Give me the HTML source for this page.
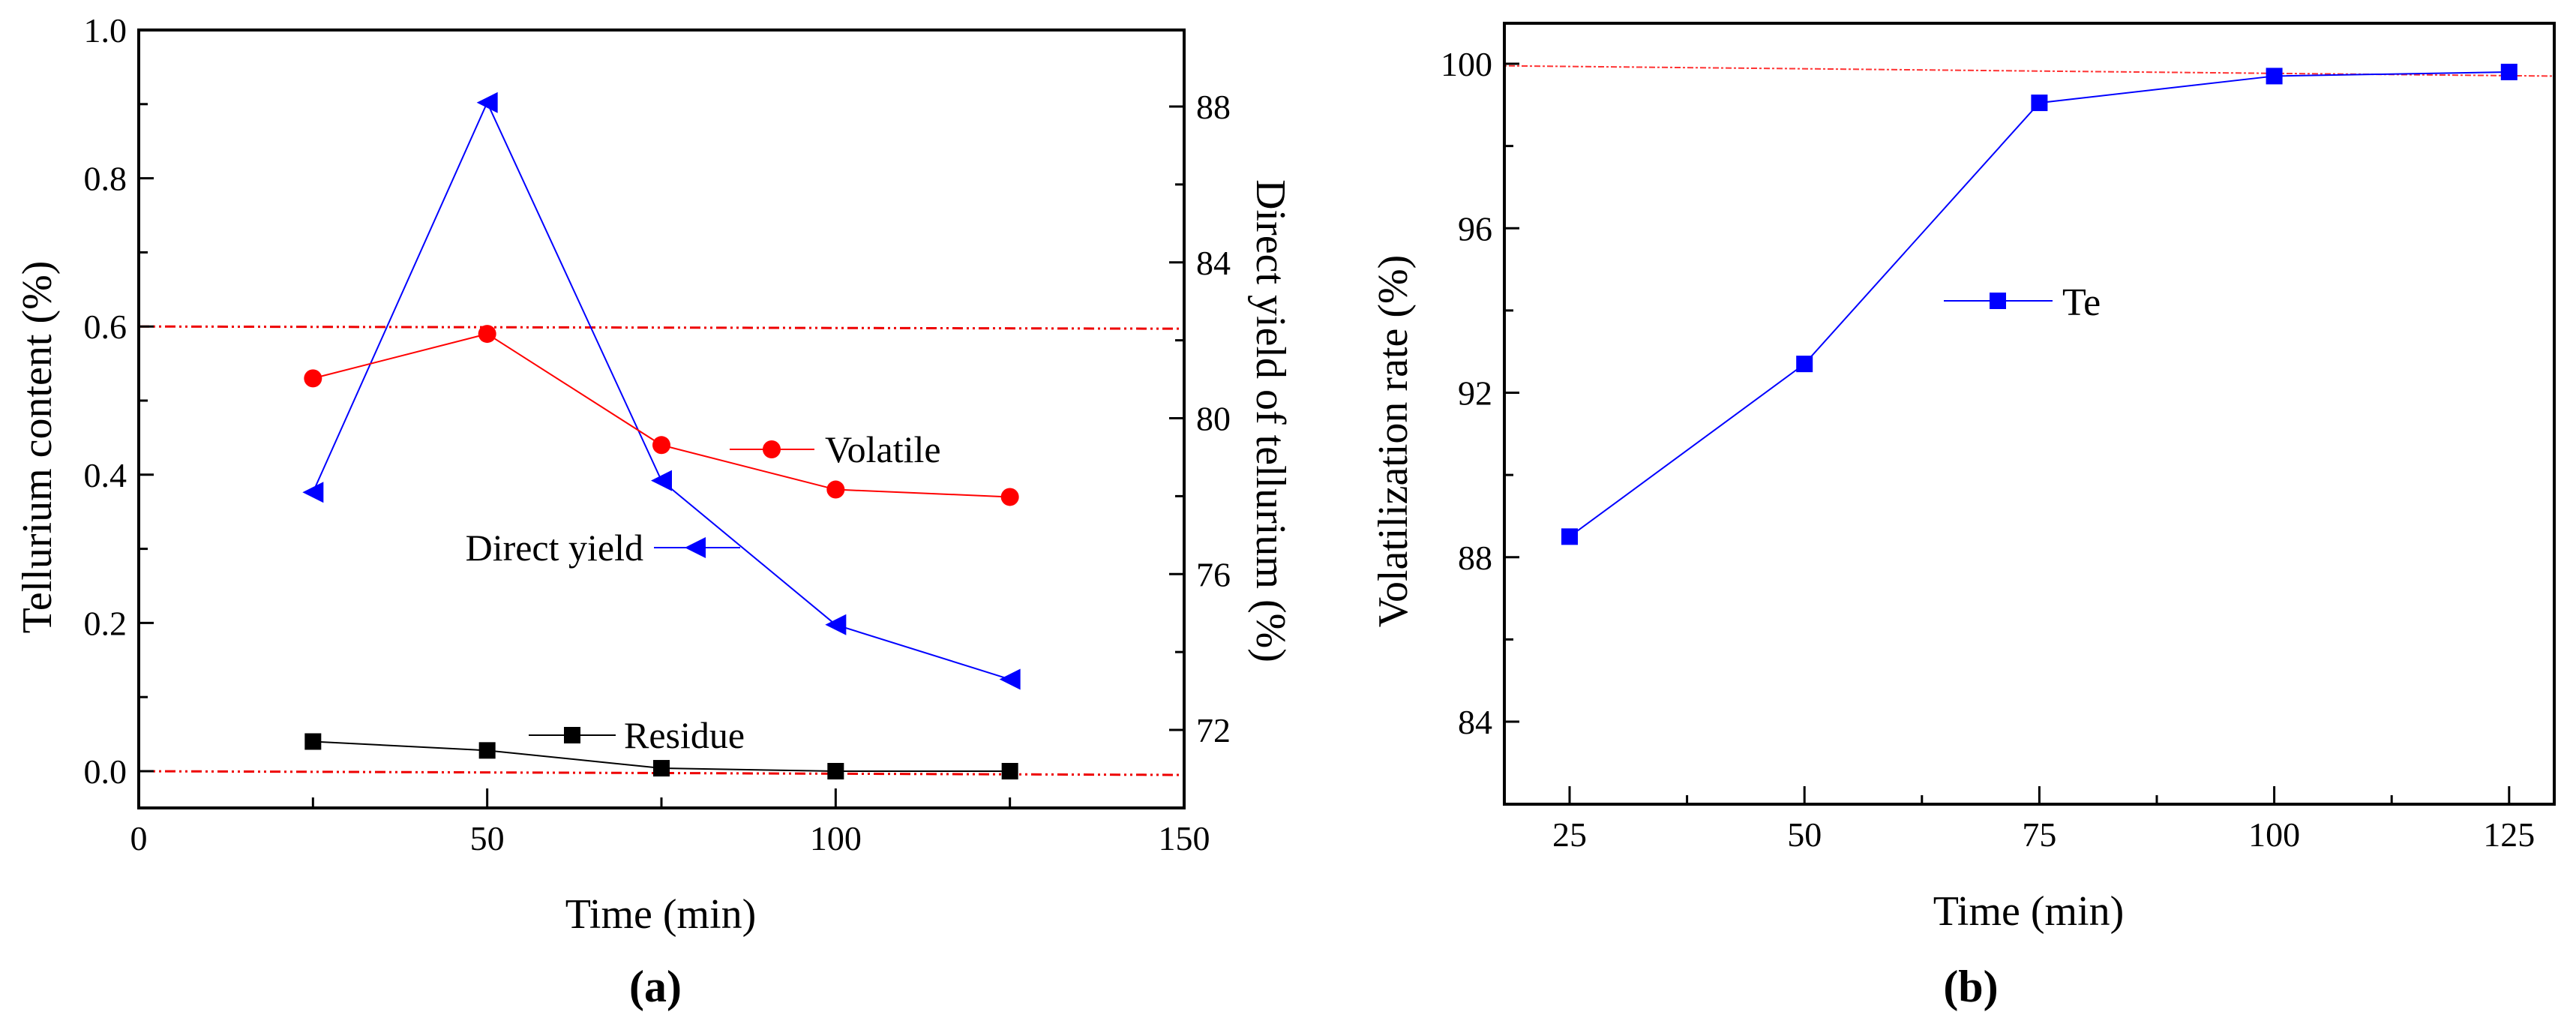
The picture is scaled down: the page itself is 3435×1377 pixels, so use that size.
<!DOCTYPE html>
<html><head><meta charset="utf-8"><style>
html,body{margin:0;padding:0;background:#fff;overflow:hidden;}
svg{display:block;font-family:"Liberation Serif",serif;}
text{font-family:"Liberation Serif",serif;}
</style></head><body>
<svg id="chart" width="3435" height="1377" viewBox="0 0 3435 1377" xmlns="http://www.w3.org/2000/svg"></svg>
<script>
const timesA = [25, 50, 75, 100, 125];
const volatileVals = [0.53, 0.59, 0.44, 0.38, 0.37];
const residueVals = [0.04, 0.028, 0.004, 0.0, 0.0];
const directYieldVals = [78.1, 88.1, 78.4, 74.7, 73.3];
const xTicksA = [0, 50, 100, 150];
const yTicksA = [0.0, 0.2, 0.4, 0.6, 0.8, 1.0];
const yTicksARight = [72, 76, 80, 84, 88];
const timesB = [25, 50, 75, 100, 125];
const teVals = [88.5, 92.7, 99.05, 99.7, 99.8];
const xTicksB = [25, 50, 75, 100, 125];
const yTicksB = [84, 88, 92, 96, 100];

const NS = "http://www.w3.org/2000/svg";
const svg = document.getElementById('chart');
function mk(tag, attrs, parent, name, inter) {
  const e = document.createElementNS(NS, tag);
  for (const k in attrs) e.setAttribute(k, attrs[k]);
  
  
  (parent || svg).appendChild(e);
  return e;
}
function txt(x, y, s, size, parent, name, anchor, extra) {
  const t = mk('text', Object.assign({x: x, y: y, 'font-size': size, 'text-anchor': anchor || 'middle', fill: '#000', 'font-family': '"Liberation Serif", serif'}, extra || {}), parent, name, false);
  t.textContent = s;
  return t;
}
function square(cx, cy, s, fill, g, name) { return mk('rect', {x: cx - s/2, y: cy - s/2, width: s, height: s, fill: fill}, g, name, false); }
function circle(cx, cy, r, fill, g, name) { return mk('circle', {cx: cx, cy: cy, r: r, fill: fill}, g, name, false); }
function tri(cx, cy, s, fill, g, name) {
  return mk('polygon', {points: `${cx - s/2},${cy} ${cx + s/2},${cy - s/2} ${cx + s/2},${cy + s/2}`, fill: fill}, g, name, false);
}

// ---------- Panel A ----------
const gA = mk('g', {}, svg, 'panel-a', false);
const AL = 185, AR = 1579, AT = 40, AB = 1077;
const xA = v => AL + (v - 0) / 150 * (AR - AL);
const yA = v => 1028 - v * 988;
const yAR = v => 142 + (88 - v) * 51.94;

mk('line', {x1: AL, y1: yA(0.6), x2: AR, y2: yA(0.6) + 3, stroke: '#e00', 'stroke-width': 3, 'stroke-dasharray': '14 5 3 5 3 5'}, gA, 'reference-line-0-6', false);
mk('line', {x1: AL, y1: yA(0), x2: AR, y2: yA(0) + 5, stroke: '#e00', 'stroke-width': 3, 'stroke-dasharray': '14 5 3 5 3 5'}, gA, 'reference-line-0-0', false);

mk('rect', {x: AL, y: AT, width: AR - AL, height: AB - AT, fill: 'none', stroke: '#000', 'stroke-width': 4}, gA, 'plot-frame-a', false);

for (let v = 25; v <= 125; v += 25) {
  const major = v % 50 === 0;
  mk('line', {x1: xA(v), y1: AB, x2: xA(v), y2: AB - (major ? 26 : 14), stroke: '#000', 'stroke-width': 3}, gA, 'x-tick-a', false);
}
xTicksA.forEach(v => txt(xA(v), 1133, String(v), 46, gA, 'x-tick-label-a'));
for (let i = 0; i <= 10; i++) {
  const v = i / 10;
  mk('line', {x1: AL, y1: yA(v), x2: AL + (i % 2 === 0 ? 20 : 12), y2: yA(v), stroke: '#000', 'stroke-width': 3}, gA, 'y-tick-a', false);
}
yTicksA.forEach(v => txt(AL - 16, yA(v) + 16, v.toFixed(1), 46, gA, 'y-tick-label-a', 'end'));
for (let v = 70; v <= 90; v += 2) {
  const y = yAR(v);
  if (y < AT + 2 || y > AB - 2) continue;
  mk('line', {x1: AR, y1: y, x2: AR - (v % 4 === 0 ? 20 : 12), y2: y, stroke: '#000', 'stroke-width': 3}, gA, 'y-right-tick-a', false);
}
yTicksARight.forEach(v => txt(AR + 16, yAR(v) + 16, String(v), 46, gA, 'y-right-tick-label-a', 'start'));

txt(881, 1237, 'Time (min)', 56, gA, 'x-axis-title-a');
txt(0, 0, 'Tellurium content (%)', 56, gA, 'y-axis-title-a', 'middle', {transform: 'translate(68,596) rotate(-90)'});
txt(0, 0, 'Direct yield of tellurium (%)', 56, gA, 'y-right-axis-title-a', 'middle', {transform: 'translate(1676,561) rotate(90)'});
txt(874, 1335, '(a)', 60, gA, 'panel-label-a', 'middle', {'font-weight': 'bold'});

function series(xs, ys, xf, yf, color, marker, name, g) {
  mk('polyline', {points: xs.map((x, i) => `${xf(x)},${yf(ys[i])}`).join(' '), fill: 'none', stroke: color, 'stroke-width': 2}, g, name + '-line', false);
  xs.forEach((x, i) => marker(xf(x), yf(ys[i]), color, g, name + '-point'));
}
series(timesA, directYieldVals, xA, yAR, '#00f', (x, y, c, g, n) => tri(x, y, 28, c, g, n), 'direct-yield', gA);
series(timesA, volatileVals, xA, yA, '#f00', (x, y, c, g, n) => circle(x, y, 12, c, g, n), 'volatile', gA);
series(timesA, residueVals, xA, yA, '#000', (x, y, c, g, n) => square(x, y, 22, c, g, n), 'residue', gA);

const lgV = mk('g', {}, gA, 'legend-volatile', false);
mk('line', {x1: 973, y1: 599, x2: 1086, y2: 599, stroke: '#f00', 'stroke-width': 2}, lgV, 'legend-volatile-line', false);
circle(1029, 599, 12, '#f00', lgV, 'legend-volatile-marker');
txt(1100, 616, 'Volatile', 50, lgV, 'legend-volatile-label', 'start');
const lgD = mk('g', {}, gA, 'legend-direct-yield', false);
txt(858, 747, 'Direct yield', 50, lgD, 'legend-direct-yield-label', 'end');
mk('line', {x1: 872, y1: 730, x2: 987, y2: 730, stroke: '#00f', 'stroke-width': 2}, lgD, 'legend-direct-yield-line', false);
tri(927, 730, 28, '#00f', lgD, 'legend-direct-yield-marker');
const lgR = mk('g', {}, gA, 'legend-residue', false);
mk('line', {x1: 705, y1: 980, x2: 821, y2: 980, stroke: '#000', 'stroke-width': 2}, lgR, 'legend-residue-line', false);
square(763, 980, 22, '#000', lgR, 'legend-residue-marker');
txt(832, 997, 'Residue', 50, lgR, 'legend-residue-label', 'start');

// ---------- Panel B ----------
const gB = mk('g', {}, svg, 'panel-b', false);
const BL = 2006, BR = 3406, BT = 31, BB = 1072;
const xB = v => 2093 + (v - 25) / 25 * 313.2;
const yB = v => 85 + (100 - v) / 16 * 877;

mk('line', {x1: BL, y1: yB(99.95), x2: BR, y2: yB(99.7), stroke: '#f33', 'stroke-width': 2, 'stroke-dasharray': '3 3 8 3'}, gB, 'reference-line-100', false);
mk('rect', {x: BL, y: BT, width: BR - BL, height: BB - BT, fill: 'none', stroke: '#000', 'stroke-width': 4}, gB, 'plot-frame-b', false);
for (let v = 25; v <= 137.5; v += 12.5) {
  const major = v % 25 === 0;
  if (xB(v) > BR - 4) continue;
  mk('line', {x1: xB(v), y1: BB, x2: xB(v), y2: BB - (major ? 24 : 12), stroke: '#000', 'stroke-width': 3}, gB, 'x-tick-b', false);
}
xTicksB.forEach(v => txt(xB(v), 1128, String(v), 46, gB, 'x-tick-label-b'));
for (let v = 82; v <= 100; v += 2) {
  mk('line', {x1: BL, y1: yB(v), x2: BL + (v % 4 === 0 ? 20 : 12), y2: yB(v), stroke: '#000', 'stroke-width': 3}, gB, 'y-tick-b', false);
}
yTicksB.forEach(v => txt(BL - 16, yB(v) + 16, String(v), 46, gB, 'y-tick-label-b', 'end'));
txt(2705, 1233, 'Time (min)', 56, gB, 'x-axis-title-b');
txt(0, 0, 'Volatilization rate (%)', 56, gB, 'y-axis-title-b', 'middle', {transform: 'translate(1876,588) rotate(-90)'});
txt(2628, 1335, '(b)', 60, gB, 'panel-label-b', 'middle', {'font-weight': 'bold'});

series(timesB, teVals, xB, yB, '#00f', (x, y, c, g, n) => square(x, y, 22, c, g, n), 'te', gB);
const lgT = mk('g', {}, gB, 'legend-te', false);
mk('line', {x1: 2592, y1: 401, x2: 2737, y2: 401, stroke: '#00f', 'stroke-width': 2}, lgT, 'legend-te-line', false);
square(2664, 401, 22, '#00f', lgT, 'legend-te-marker');
txt(2750, 420, 'Te', 52, lgT, 'legend-te-label', 'start');
</script>
</body></html>
